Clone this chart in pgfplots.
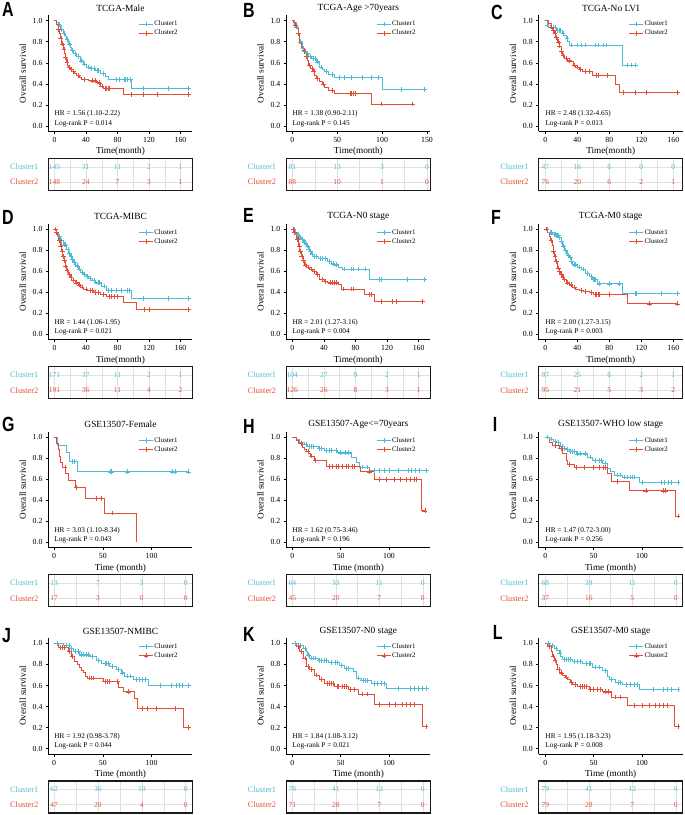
\documentclass[border=0pt]{standalone}
\usepackage{pgfplots}
\pgfplotsset{compat=1.18}
\usepackage{fontspec}
\setmainfont{Liberation Serif}
\newfontfamily\lettersf{Liberation Sans}
\definecolor{c1}{HTML}{4DBBD5}
\definecolor{c2}{HTML}{E64B35}
\newcommand\fs[1]{\fontsize{#1}{#1}\selectfont}
\pgfplotsset{
 km/.style={scale only axis, width=144pt, height=116pt, anchor=north west,
  ymin=-0.05, ymax=1.05, axis lines*=left, axis line style={line width=0.6pt},
  tick align=outside, major tick length=2.5pt, tick style={black, line width=0.6pt},
  ytick={0,0.2,0.4,0.6,0.8,1},
  yticklabel style={/pgf/number format/.cd,fixed,fixed zerofill,precision=1},
  /pgf/number format/assume math mode=true,
  ticklabel style={font=\fs{7.8}},
  every axis title shift=0pt,
  title style={font=\fs{9.4}, at={(axis description cs:0.5,1.06)}, anchor=center},
  xlabel style={font=\fs{9.2}, at={(axis description cs:0.5,-0.175)}, anchor=center},
  ylabel style={font=\fs{9.2}, at={(axis description cs:-0.179,0.5)}, anchor=center},
  ylabel={Overall survival},
  legend style={at={(axis description cs:0.625,0.961)}, anchor=north west, draw=none, fill=none, inner sep=0pt, font=\fs{6.9}, row sep=1.2pt, column sep=0pt, nodes={inner sep=0.8pt}},
  legend cell align=left,
  legend image code/.code={\draw[mark repeat=2,mark phase=2,#1] plot coordinates {(0pt,0pt) (7pt,0pt) (14pt,0pt)};},
 },
 kml/.style={const plot, line width=0.8pt, forget plot},
 cens/.style={only marks, mark=+, mark size=2.4pt, mark options={line width=0.5pt}, forget plot},
 tbl/.style={scale only axis, width=144pt, height=32pt, anchor=north west,
  ymin=0.45, ymax=2.55, ytick={1,2},
  yticklabels={\textcolor{c2}{Cluster2},\textcolor{c1}{Cluster1}},
  yticklabel style={font=\fs{8.3}, inner sep=0pt, xshift=-10pt},
  major tick length=0pt, minor tick length=0pt, xticklabels={},
  grid=both, grid style={black!12, line width=0.5pt}, minor grid style={black!12, line width=0.5pt},
  axis line style={line width=1.1pt, black!90}},
 tn/.style={draw=none, mark=none, nodes near coords, point meta=explicit symbolic,
  every node near coord/.append style={anchor=center, font=\fs{7.5}, inner sep=0pt}},
}
\newcommand\kmleg{\addlegendimage{c1, line width=0.8pt, mark=+, mark size=2.4pt, mark options={line width=0.5pt}}\addlegendentry{Cluster1}%
\addlegendimage{c2, line width=0.8pt, mark=+, mark size=2.4pt, mark options={line width=0.5pt}}\addlegendentry{Cluster2}}
\newcommand\kmhr[2]{\node[anchor=west, font=\fs{7.3}, inner sep=0pt] at (axis cs:0,0.115) {#1};
\node[anchor=west, font=\fs{7.3}, inner sep=0pt] at (axis cs:0,0.025) {#2};}
\newcommand\plet[3]{\node[anchor=north west, inner sep=0pt, font=\lettersf\bfseries\fs{20.5}] at (#1pt,-#2pt) {\scalebox{0.78}[1]{#3}};}
\begin{document}
\begin{tikzpicture}
\path[use as bounding box] (0pt,0pt) rectangle (685pt,-815pt);
\plet{2}{1.7}{A}\plet{243}{3.3}{B}\plet{491}{5}{C}
\plet{2}{209.7}{D}\plet{243}{208}{E}\plet{491}{209.7}{F}
\plet{2}{417}{G}\plet{243}{418.7}{H}\plet{492.7}{417}{I}
\plet{2}{628}{J}\plet{243}{626.7}{K}\plet{492.7}{625}{L}

% ---------------- A
\begin{axis}[km, at={(48.5pt,-15.4pt)}, xmin=-7.6, xmax=175.2, xtick={0,40,80,120,160}, title={TCGA-Male}, xlabel={Time(month)}]
\addplot[kml,c1] coordinates {(0,1) (3,0.98) (5,0.96) (8,0.92) (11.4,0.88) (13.5,0.85) (15.7,0.82) (18,0.78) (20,0.75) (22,0.72) (24.1,0.69) (28.4,0.66) (32.6,0.62) (36.8,0.59) (41,0.56) (45.3,0.55) (51.6,0.53) (58,0.50) (64.3,0.47) (68.6,0.44) (98.2,0.36) (170,0.36)};
\addplot[cens,c1] coordinates {(6,0.96) (9,0.92) (12,0.88) (16,0.82) (19,0.78) (23,0.72) (26,0.69) (30,0.66) (34,0.62) (38,0.59) (43,0.56) (47,0.55) (50,0.55) (54,0.53) (56,0.53) (62,0.50) (78,0.44) (82,0.44) (88,0.44) (90,0.44) (93,0.44) (96,0.44) (113,0.36) (145,0.36) (170,0.36)};
\addplot[kml,c2] coordinates {(0,1) (2,0.98) (3,0.96) (4.5,0.92) (6.3,0.88) (7.8,0.83) (9.3,0.78) (11,0.73) (12.3,0.69) (13.5,0.65) (14.8,0.61) (16.3,0.58) (17.8,0.56) (20,0.54) (22,0.52) (25,0.50) (27.5,0.48) (31,0.46) (34.7,0.44) (43,0.43) (53.8,0.41) (58,0.38) (62.2,0.36) (87.6,0.30) (170,0.30)};
\addplot[cens,c2] coordinates {(5,0.92) (8,0.83) (10,0.78) (12,0.73) (14,0.65) (16,0.61) (19,0.56) (21,0.54) (24,0.52) (30,0.48) (38,0.44) (48,0.43) (52,0.43) (57,0.41) (60,0.38) (64,0.36) (66,0.36) (68,0.36) (70,0.36) (98,0.30) (113,0.30) (130,0.30) (170,0.30)};
\kmleg
\kmhr{HR = 1.56 (1.10-2.22)}{Log-rank P = 0.014}
\end{axis}
\begin{axis}[tbl, at={(48.5pt,-158.4pt)}, xmin=-7.6, xmax=175.2, xtick={0,40,80,120,160}, minor xtick={20,60,100,140}]
\addplot[tn, every node near coord/.append style={text=c1}] coordinates {(0,2)[145] (40,2)[31] (80,2)[11] (120,2)[2] (160,2)[1]};
\addplot[tn, every node near coord/.append style={text=c2}] coordinates {(0,1)[148] (40,1)[24] (80,1)[7] (120,1)[3] (160,1)[1]};
\end{axis}

% ---------------- B
\begin{axis}[km, at={(286.3pt,-15.4pt)}, xmin=-6.7, xmax=153.7, xtick={0,50,100,150}, title={TCGA-Age >70years}, xlabel={Time(month)}]
\addplot[kml,c1] coordinates {(0,1) (2,0.98) (4.5,0.94) (6.3,0.88) (8.2,0.80) (10.8,0.74) (13,0.71) (15.6,0.69) (18,0.66) (21,0.64) (26.7,0.61) (30.4,0.56) (33,0.54) (36,0.52) (40,0.49) (47,0.46) (99.9,0.35) (147,0.35)};
\addplot[cens,c1] coordinates {(5,0.94) (9,0.80) (12,0.74) (14,0.71) (17,0.69) (20,0.66) (23,0.64) (25,0.64) (28,0.61) (32,0.56) (38,0.52) (45,0.49) (52,0.46) (58,0.46) (66,0.46) (78,0.46) (88,0.46) (96,0.46) (121,0.35) (147,0.35)};
\addplot[kml,c2] coordinates {(0,1) (1.5,0.98) (2.6,0.96) (4,0.93) (6.3,0.88) (8.2,0.78) (10,0.75) (11.9,0.72) (14,0.69) (15.6,0.66) (17,0.62) (18.2,0.58) (20.5,0.55) (23,0.52) (25,0.48) (26.7,0.45) (30.4,0.42) (33,0.40) (36,0.37) (39.7,0.34) (47,0.31) (88,0.21) (134,0.21)};
\addplot[cens,c2] coordinates {(3,0.96) (7,0.88) (13,0.72) (16,0.66) (19,0.58) (22,0.55) (24,0.52) (28,0.45) (35,0.40) (44,0.34) (64,0.31) (66,0.31) (68,0.31) (70,0.31) (99,0.21) (134,0.21)};
\kmleg
\kmhr{HR = 1.38 (0.90-2.11)}{Log-rank P = 0.145}
\end{axis}
\begin{axis}[tbl, at={(286.3pt,-158.4pt)}, xmin=-6.7, xmax=153.7, xtick={0,50,100,150}, minor xtick={25,75,125}]
\addplot[tn, every node near coord/.append style={text=c1}] coordinates {(0,2)[81] (50,2)[13] (100,2)[3] (150,2)[0]};
\addplot[tn, every node near coord/.append style={text=c2}] coordinates {(0,1)[88] (50,1)[10] (100,1)[1] (150,1)[0]};
\end{axis}

% ---------------- C
\begin{axis}[km, at={(538.7pt,-15.4pt)}, xmin=-8.25, xmax=171.75, xtick={0,40,80,120,160}, title={TCGA-No LVI}, xlabel={Time(month)}]
\addplot[kml,c1] coordinates {(0,1) (3,0.96) (4.2,0.94) (13.3,0.91) (20.8,0.88) (23,0.86) (25.8,0.83) (28,0.80) (30,0.77) (96.7,0.58) (113,0.58)};
\addplot[cens,c1] coordinates {(2,0.96) (6,0.94) (8,0.94) (10,0.94) (12,0.94) (15,0.91) (17,0.91) (19,0.91) (22,0.88) (27,0.83) (33,0.77) (40,0.77) (45,0.77) (50,0.77) (63,0.77) (66,0.77) (72,0.77) (76,0.77) (103,0.58) (108,0.58) (113,0.58)};
\addplot[kml,c2] coordinates {(0,1) (4,0.97) (7,0.94) (9,0.91) (11.3,0.88) (13,0.84) (15.4,0.80) (17,0.76) (19.6,0.71) (21.5,0.67) (23.8,0.64) (28,0.62) (32,0.61) (35,0.58) (38,0.56) (42,0.54) (46.7,0.52) (59,0.48) (88,0.40) (93,0.32) (165,0.32)};
\addplot[cens,c2] coordinates {(8,0.94) (10,0.91) (12,0.88) (14,0.84) (16,0.80) (18,0.76) (20,0.71) (22,0.67) (26,0.64) (30,0.62) (36,0.58) (40,0.56) (44,0.54) (50,0.52) (55,0.52) (64,0.48) (66,0.48) (78,0.48) (98,0.32) (112,0.32) (126,0.32) (165,0.32)};
\kmleg
\kmhr{HR = 2.48 (1.32-4.65)}{Log-rank P = 0.013}
\end{axis}
\begin{axis}[tbl, at={(538.7pt,-158.4pt)}, xmin=-8.25, xmax=171.75, xtick={0,40,80,120,160}, minor xtick={20,60,100,140}]
\addplot[tn, every node near coord/.append style={text=c1}] coordinates {(0,2)[47] (40,2)[16] (80,2)[6] (120,2)[0] (160,2)[0]};
\addplot[tn, every node near coord/.append style={text=c2}] coordinates {(0,1)[76] (40,1)[20] (80,1)[6] (120,1)[2] (160,1)[1]};
\end{axis}

% ---------------- D
\begin{axis}[km, at={(48.5pt,-223.7pt)}, xmin=-7.6, xmax=175.2, xtick={0,40,80,120,160}, title={TCGA-MIBC}, xlabel={Time(month)}]
\addplot[kml,c1] coordinates {(0,1) (3,0.97) (5,0.93) (8,0.89) (11.4,0.85) (15.7,0.81) (18,0.77) (20,0.74) (22,0.71) (24,0.68) (27,0.65) (30.5,0.62) (33,0.59) (36.8,0.57) (40,0.55) (43,0.53) (48,0.51) (51.6,0.49) (60,0.46) (66.5,0.42) (98,0.34) (170,0.34)};
\addplot[cens,c1] coordinates {(6,0.93) (9,0.89) (12,0.85) (14,0.85) (17,0.81) (19,0.77) (21,0.74) (23,0.71) (25,0.68) (29,0.65) (32,0.62) (35,0.59) (38,0.57) (42,0.55) (46,0.53) (50,0.51) (55,0.49) (57,0.49) (63,0.46) (68,0.42) (72,0.42) (78,0.42) (85,0.42) (92,0.42) (95,0.42) (113,0.34) (145,0.34) (170,0.34)};
\addplot[kml,c2] coordinates {(0,1) (2,0.97) (3.8,0.93) (5.5,0.89) (7.2,0.84) (9,0.79) (10.6,0.74) (12,0.70) (13.5,0.65) (15.5,0.61) (17.8,0.57) (20,0.54) (22,0.51) (26,0.49) (30.5,0.47) (33,0.45) (36.8,0.43) (42,0.42) (49.5,0.40) (58,0.38) (66.5,0.36) (87.6,0.30) (104.5,0.24) (170,0.24)};
\addplot[cens,c2] coordinates {(1,1) (2.5,0.97) (6,0.89) (8,0.84) (10,0.79) (11,0.74) (13,0.70) (14,0.65) (16,0.61) (19,0.57) (21,0.54) (24,0.51) (28,0.49) (32,0.47) (35,0.45) (40,0.43) (45,0.42) (48,0.42) (52,0.40) (56,0.40) (62,0.38) (69,0.36) (72,0.36) (76,0.36) (80,0.36) (114,0.24) (120,0.24) (170,0.24)};
\kmleg
\kmhr{HR = 1.44 (1.06-1.95)}{Log-rank P = 0.021}
\end{axis}
\begin{axis}[tbl, at={(48.5pt,-366.7pt)}, xmin=-7.6, xmax=175.2, xtick={0,40,80,120,160}, minor xtick={20,60,100,140}]
\addplot[tn, every node near coord/.append style={text=c1}] coordinates {(0,2)[171] (40,2)[37] (80,2)[11] (120,2)[2] (160,2)[1]};
\addplot[tn, every node near coord/.append style={text=c2}] coordinates {(0,1)[191] (40,1)[36] (80,1)[11] (120,1)[4] (160,1)[2]};
\end{axis}

% ---------------- E
\begin{axis}[km, at={(286.3pt,-223.7pt)}, xmin=-7.6, xmax=174.7, xtick={0,40,80,120,160}, title={TCGA-N0 stage}, xlabel={Time(month)}]
\addplot[kml,c1] coordinates {(0,1) (3,0.97) (5,0.95) (8,0.92) (11.4,0.90) (14,0.87) (17.7,0.84) (20,0.81) (22,0.79) (24,0.76) (26,0.74) (32.5,0.72) (45,0.69) (50,0.67) (53.6,0.66) (58,0.64) (64,0.62) (98,0.52) (167.5,0.52)};
\addplot[cens,c1] coordinates {(2,1) (4,0.97) (6,0.95) (7,0.95) (9,0.92) (10,0.92) (12,0.90) (13,0.90) (15,0.87) (16,0.87) (19,0.84) (21,0.81) (23,0.79) (25,0.76) (28,0.74) (30,0.74) (35,0.72) (38,0.72) (42,0.72) (47,0.69) (52,0.67) (56,0.66) (66,0.62) (75,0.62) (77,0.62) (83,0.62) (92,0.62) (110,0.52) (113,0.52) (145,0.52) (167.5,0.52)};
\addplot[kml,c2] coordinates {(0,1) (2,0.97) (5,0.90) (8,0.84) (9.5,0.79) (11.4,0.74) (13.5,0.70) (15.6,0.66) (18,0.64) (22,0.62) (26,0.60) (30.4,0.57) (34.6,0.52) (40,0.50) (45,0.49) (57.8,0.47) (62,0.43) (91.6,0.38) (104,0.31) (165,0.31)};
\addplot[cens,c2] coordinates {(1,1) (3,0.97) (6,0.90) (7,0.90) (9,0.84) (10,0.79) (12,0.74) (14,0.70) (16,0.66) (17,0.66) (20,0.64) (24,0.62) (28,0.60) (32,0.57) (38,0.52) (42,0.50) (48,0.49) (50,0.49) (53,0.49) (55,0.49) (65,0.43) (75,0.43) (77,0.43) (97,0.38) (100,0.38) (113,0.31) (126,0.31) (132,0.31) (165,0.31)};
\kmleg
\kmhr{HR = 2.01 (1.27-3.16)}{Log-rank P = 0.004}
\end{axis}
\begin{axis}[tbl, at={(286.3pt,-366.7pt)}, xmin=-7.6, xmax=174.7, xtick={0,40,80,120,160}, minor xtick={20,60,100,140}]
\addplot[tn, every node near coord/.append style={text=c1}] coordinates {(0,2)[104] (40,2)[27] (80,2)[9] (120,2)[2] (160,2)[1]};
\addplot[tn, every node near coord/.append style={text=c2}] coordinates {(0,1)[126] (40,1)[26] (80,1)[8] (120,1)[3] (160,1)[1]};
\end{axis}

% ---------------- F
\begin{axis}[km, at={(538.7pt,-223.7pt)}, xmin=-8.25, xmax=171.75, xtick={0,40,80,120,160}, title={TCGA-M0 stage}, xlabel={Time(month)}]
\addplot[kml,c1] coordinates {(0,1) (3,0.97) (9,0.95) (13,0.94) (17.5,0.92) (19.5,0.88) (21.7,0.84) (24,0.80) (25.8,0.77) (28,0.75) (30,0.73) (32,0.69) (34,0.66) (40,0.64) (44.6,0.62) (50,0.58) (55,0.55) (59,0.52) (65.4,0.48) (96.7,0.39) (165,0.39)};
\addplot[cens,c1] coordinates {(2,1) (6,0.97) (8,0.97) (11,0.95) (12,0.95) (14,0.94) (15,0.94) (16,0.94) (18,0.92) (20,0.88) (23,0.84) (25,0.80) (27,0.77) (29,0.75) (31,0.73) (33,0.69) (36,0.66) (38,0.66) (42,0.64) (47,0.62) (52,0.58) (53,0.58) (57,0.55) (60,0.52) (61,0.52) (63,0.52) (67,0.48) (80,0.48) (92,0.48) (112,0.39) (114,0.39) (145,0.39) (165,0.39)};
\addplot[kml,c2] coordinates {(0,1) (2,0.97) (5,0.93) (6.5,0.89) (8.3,0.84) (9.8,0.79) (11.3,0.74) (13,0.69) (15.4,0.63) (17,0.60) (18.8,0.57) (20.8,0.54) (23,0.52) (25.8,0.49) (30,0.47) (34,0.45) (38,0.43) (42.5,0.42) (48,0.41) (55,0.40) (60,0.38) (103,0.29) (165,0.29)};
\addplot[cens,c2] coordinates {(1,1) (7,0.89) (10,0.79) (12,0.74) (14,0.69) (16,0.63) (18,0.60) (20,0.57) (22,0.54) (24,0.52) (28,0.49) (32,0.47) (36,0.45) (45,0.42) (50,0.41) (58,0.40) (62,0.38) (64,0.38) (66,0.38) (68,0.38) (80,0.38) (130,0.29) (165,0.29)};
\kmleg
\kmhr{HR = 2.00 (1.27-3.15)}{Log-rank P = 0.003}
\end{axis}
\begin{axis}[tbl, at={(538.7pt,-366.7pt)}, xmin=-8.25, xmax=171.75, xtick={0,40,80,120,160}, minor xtick={20,60,100,140}]
\addplot[tn, every node near coord/.append style={text=c1}] coordinates {(0,2)[97] (40,2)[25] (80,2)[6] (120,2)[2] (160,2)[1]};
\addplot[tn, every node near coord/.append style={text=c2}] coordinates {(0,1)[95] (40,1)[21] (80,1)[5] (120,1)[3] (160,1)[2]};
\end{axis}

% ---------------- G
\begin{axis}[km, at={(48.5pt,-431.7pt)}, xmin=-5.8, xmax=142, xtick={0,50,100}, title={GSE13507-Female}, xlabel={Time (month)}]
\addplot[kml,c1] coordinates {(0,1) (3,0.92) (12.7,0.85) (15.4,0.77) (23.6,0.67) (137.6,0.67)};
\addplot[cens,c1] coordinates {(19,0.77) (21,0.77) (58,0.67) (58.7,0.67) (75,0.67) (121,0.67) (124,0.67) (137.6,0.67)};
\addplot[kml,c2] coordinates {(0,1) (2.4,0.94) (4.1,0.88) (5.8,0.82) (6.5,0.76) (8,0.71) (12,0.65) (14.4,0.59) (22.2,0.52) (32.5,0.42) (52,0.28) (84.5,0)};
\addplot[cens,c2] coordinates {(11,0.71) (23,0.52) (43,0.42) (48,0.42) (60,0.28)};
\kmleg
\kmhr{HR = 3.03 (1.10-8.34)}{Log-rank P = 0.043}
\end{axis}
\begin{axis}[tbl, at={(48.5pt,-574.7pt)}, xmin=-5.8, xmax=142, xtick={0,45,90,135}, minor xtick={22.5,67.5,112.5}]
\addplot[tn, every node near coord/.append style={text=c1}] coordinates {(0,2)[13] (45,2)[7] (90,2)[3] (135,2)[0]};
\addplot[tn, every node near coord/.append style={text=c2}] coordinates {(0,1)[17] (45,1)[3] (90,1)[0] (135,1)[0]};
\end{axis}

% ---------------- H
\begin{axis}[km, at={(286.3pt,-431.7pt)}, xmin=-6.2, xmax=142.7, xtick={0,50,100}, title={GSE13507-Age<=70years}, xlabel={Time (month)}]
\addplot[kml,c1] coordinates {(0,1) (4,0.98) (7.6,0.95) (12,0.93) (16,0.91) (26.5,0.89) (33.4,0.87) (47,0.85) (61,0.81) (66,0.76) (69.7,0.715) (80,0.68) (138.6,0.68)};
\addplot[cens,c1] coordinates {(14,0.93) (18,0.91) (20,0.91) (22,0.91) (28,0.89) (30,0.89) (35,0.87) (38,0.87) (40,0.87) (45,0.87) (50,0.85) (55,0.85) (58,0.85) (72,0.715) (78,0.715) (85,0.68) (90,0.68) (95,0.68) (100,0.68) (110,0.68) (120,0.68) (123,0.68) (127,0.68) (131,0.68) (138.6,0.68)};
\addplot[kml,c2] coordinates {(0,1) (4,0.97) (6.6,0.94) (10,0.90) (12,0.88) (14.5,0.86) (17,0.84) (19,0.82) (22.4,0.78) (35,0.72) (70.7,0.67) (85,0.60) (133.4,0.30) (137,0.30)};
\addplot[cens,c2] coordinates {(9,0.94) (16,0.86) (20,0.82) (24,0.78) (38,0.72) (41,0.72) (45,0.72) (48,0.72) (52,0.72) (56,0.72) (58,0.72) (62,0.72) (64,0.72) (80,0.67) (90,0.60) (97,0.60) (105,0.60) (112,0.60) (118,0.60) (122,0.60) (126,0.60) (128,0.60) (137,0.30)};
\kmleg
\kmhr{HR = 1.62 (0.75-3.46)}{Log-rank P = 0.196}
\end{axis}
\begin{axis}[tbl, at={(286.3pt,-574.7pt)}, xmin=-6.2, xmax=142.7, xtick={0,45,90,135}, minor xtick={22.5,67.5,112.5}]
\addplot[tn, every node near coord/.append style={text=c1}] coordinates {(0,2)[64] (45,2)[33] (90,2)[11] (135,2)[0]};
\addplot[tn, every node near coord/.append style={text=c2}] coordinates {(0,1)[45] (45,1)[20] (90,1)[7] (135,1)[0]};
\end{axis}

% ---------------- I
\begin{axis}[km, at={(538.7pt,-431.7pt)}, xmin=-6.8, xmax=142.1, xtick={0,50,100}, title={GSE13507-WHO low stage}, xlabel={Time (month)}]
\addplot[kml,c1] coordinates {(0,1) (4,0.98) (8,0.96) (11,0.95) (16,0.91) (19.7,0.89) (22,0.88) (24.8,0.86) (31.7,0.84) (43.8,0.81) (49,0.78) (59,0.75) (64.5,0.70) (67,0.67) (71.4,0.64) (80,0.62) (97,0.57) (137,0.57)};
\addplot[cens,c1] coordinates {(2,1) (6,0.98) (10,0.96) (13,0.95) (18,0.91) (20,0.89) (23,0.88) (26,0.86) (28,0.86) (30,0.86) (33,0.84) (36,0.84) (41,0.84) (46,0.81) (52,0.78) (56,0.78) (58,0.78) (62,0.75) (74,0.64) (78,0.64) (82,0.62) (85,0.62) (88,0.62) (90,0.62) (92,0.62) (100,0.57) (120,0.57) (123,0.57) (127,0.57) (130,0.57) (137,0.57)};
\addplot[kml,c2] coordinates {(0,1) (4,0.95) (7.6,0.92) (14.5,0.89) (18,0.84) (21.4,0.78) (23,0.74) (30,0.71) (64.5,0.65) (68,0.58) (87,0.49) (134.5,0.25) (137,0.25)};
\addplot[cens,c2] coordinates {(10,0.92) (16,0.89) (25,0.74) (32,0.71) (40,0.71) (50,0.71) (56,0.71) (60,0.71) (62,0.71) (74,0.58) (104,0.49) (122,0.49) (124,0.49) (137,0.25)};
\kmleg
\kmhr{HR = 1.47 (0.72-3.00)}{Log-rank P = 0.256}
\end{axis}
\begin{axis}[tbl, at={(538.7pt,-574.7pt)}, xmin=-6.8, xmax=142.1, xtick={0,45,90,135}, minor xtick={22.5,67.5,112.5}]
\addplot[tn, every node near coord/.append style={text=c1}] coordinates {(0,2)[68] (45,2)[39] (90,2)[11] (135,2)[0]};
\addplot[tn, every node near coord/.append style={text=c2}] coordinates {(0,1)[37] (45,1)[16] (90,1)[5] (135,1)[0]};
\end{axis}

% ---------------- J
\begin{axis}[km, at={(48.5pt,-638pt)}, xmin=-5.8, xmax=142, xtick={0,50,100}, title={GSE13507-NMIBC}, xlabel={Time (month)}]
\addplot[kml,c1] coordinates {(0,1) (9,0.98) (16,0.95) (19.5,0.92) (26,0.89) (36.6,0.875) (43.5,0.84) (48.6,0.81) (57,0.78) (64,0.75) (69,0.72) (72.5,0.69) (81,0.66) (96.5,0.60) (137.6,0.60)};
\addplot[cens,c1] coordinates {(3,1) (12,0.98) (15,0.98) (18,0.95) (22,0.92) (25,0.92) (28,0.89) (30,0.89) (33,0.89) (35,0.89) (39,0.875) (45,0.84) (52,0.81) (53,0.81) (56,0.81) (60,0.78) (66,0.75) (70,0.72) (75,0.69) (78,0.69) (84,0.66) (87,0.66) (90,0.66) (93,0.66) (109,0.60) (120,0.60) (125,0.60) (128,0.60) (131,0.60) (137.6,0.60)};
\addplot[kml,c2] coordinates {(0,1) (4,0.96) (14.4,0.92) (17.8,0.875) (21.2,0.83) (23.5,0.80) (25.7,0.77) (28,0.74) (29.8,0.72) (32,0.69) (33.9,0.67) (50.3,0.64) (65.7,0.58) (70.8,0.54) (82.8,0.48) (85.2,0.38) (133,0.20) (137.6,0.20)};
\addplot[cens,c2] coordinates {(6,0.96) (8,0.96) (10,0.96) (16,0.92) (19,0.875) (36,0.67) (38,0.67) (40,0.67) (52,0.64) (55,0.64) (57,0.64) (65,0.64) (76,0.54) (90,0.38) (96,0.38) (105,0.38) (124,0.38) (137.6,0.20)};
\kmleg
\kmhr{HR = 1.92 (0.98-3.78)}{Log-rank P = 0.044}
\end{axis}
\begin{axis}[tbl, at={(48.5pt,-781pt)}, xmin=-5.8, xmax=142, xtick={0,45,90,135}, minor xtick={22.5,67.5,112.5}]
\addplot[tn, every node near coord/.append style={text=c1}] coordinates {(0,2)[62] (45,2)[36] (90,2)[10] (135,2)[0]};
\addplot[tn, every node near coord/.append style={text=c2}] coordinates {(0,1)[47] (45,1)[20] (90,1)[4] (135,1)[0]};
\end{axis}

% ---------------- K
\begin{axis}[km, at={(286.3pt,-638pt)}, xmin=-6.2, xmax=142.7, xtick={0,50,100}, title={GSE13507-N0 stage}, xlabel={Time (month)}]
\addplot[kml,c1] coordinates {(0,1) (5.9,0.98) (11,0.95) (14.5,0.92) (16,0.89) (18,0.86) (26.5,0.84) (37,0.82) (49,0.79) (54,0.76) (62.8,0.73) (66,0.67) (71.4,0.65) (81.7,0.62) (97,0.57) (138.6,0.57)};
\addplot[cens,c1] coordinates {(3,1) (8,0.98) (13,0.95) (17,0.89) (20,0.86) (22,0.86) (24,0.86) (28,0.84) (30,0.84) (33,0.84) (35,0.84) (40,0.82) (44,0.82) (46,0.82) (51,0.79) (56,0.76) (58,0.76) (68,0.67) (73,0.65) (75,0.65) (78,0.65) (85,0.62) (88,0.62) (92,0.62) (95,0.62) (110,0.57) (122,0.57) (126,0.57) (130,0.57) (134,0.57) (138.6,0.57)};
\addplot[kml,c2] coordinates {(0,1) (4,0.97) (7.6,0.92) (11,0.86) (14.5,0.78) (18,0.75) (23,0.70) (28.3,0.66) (33.4,0.62) (43.8,0.59) (57.6,0.56) (68,0.52) (85,0.42) (135,0.21) (138,0.21)};
\addplot[cens,c2] coordinates {(6,0.97) (9,0.92) (13,0.86) (16,0.78) (20,0.75) (25,0.70) (30,0.66) (36,0.62) (38,0.62) (40,0.62) (42,0.62) (46,0.59) (48,0.59) (52,0.59) (54,0.59) (56,0.59) (60,0.56) (64,0.56) (72,0.52) (77,0.52) (90,0.42) (100,0.42) (106,0.42) (114,0.42) (118,0.42) (122,0.42) (126,0.42) (138,0.21)};
\kmleg
\kmhr{HR = 1.84 (1.08-3.12)}{Log-rank P = 0.021}
\end{axis}
\begin{axis}[tbl, at={(286.3pt,-781pt)}, xmin=-6.2, xmax=142.7, xtick={0,45,90,135}, minor xtick={22.5,67.5,112.5}]
\addplot[tn, every node near coord/.append style={text=c1}] coordinates {(0,2)[78] (45,2)[41] (90,2)[12] (135,2)[0]};
\addplot[tn, every node near coord/.append style={text=c2}] coordinates {(0,1)[71] (45,1)[28] (90,1)[7] (135,1)[0]};
\end{axis}

% ---------------- L
\begin{axis}[km, at={(538.7pt,-638pt)}, xmin=-6.8, xmax=142.1, xtick={0,50,100}, title={GSE13507-M0 stage}, xlabel={Time (month)}]
\addplot[kml,c1] coordinates {(0,1) (4,0.98) (9.3,0.95) (12,0.93) (14.5,0.91) (16,0.88) (18,0.85) (28.3,0.83) (38.6,0.81) (49,0.775) (59,0.74) (64.5,0.69) (66,0.66) (73,0.63) (80,0.61) (97,0.56) (137,0.56)};
\addplot[cens,c1] coordinates {(3,1) (7,0.98) (11,0.95) (15,0.91) (20,0.85) (22,0.85) (24,0.85) (26,0.85) (30,0.83) (33,0.83) (36,0.83) (42,0.81) (45,0.81) (47,0.81) (52,0.775) (56,0.775) (62,0.74) (68,0.66) (75,0.63) (78,0.63) (84,0.61) (88,0.61) (92,0.61) (95,0.61) (112,0.56) (122,0.56) (126,0.56) (130,0.56) (137,0.56)};
\addplot[kml,c2] coordinates {(0,1) (2.4,0.97) (5.9,0.92) (7.5,0.88) (9.3,0.84) (11,0.80) (12.8,0.75) (15,0.72) (18,0.70) (20.5,0.68) (23,0.66) (25.5,0.63) (28.3,0.61) (33.4,0.59) (45.5,0.56) (59,0.54) (68,0.49) (85,0.41) (133.4,0.21) (137,0.21)};
\addplot[cens,c2] coordinates {(4,0.97) (8,0.88) (10,0.84) (14,0.75) (17,0.72) (22,0.68) (27,0.63) (31,0.61) (36,0.59) (38,0.59) (40,0.59) (42,0.59) (47,0.56) (50,0.56) (54,0.56) (57,0.56) (62,0.54) (65,0.54) (72,0.49) (78,0.49) (92,0.41) (100,0.41) (108,0.41) (114,0.41) (118,0.41) (122,0.41) (126,0.41) (137,0.21)};
\kmleg
\kmhr{HR = 1.95 (1.18-3.23)}{Log-rank P = 0.008}
\end{axis}
\begin{axis}[tbl, at={(538.7pt,-781pt)}, xmin=-6.8, xmax=142.1, xtick={0,45,90,135}, minor xtick={22.5,67.5,112.5}]
\addplot[tn, every node near coord/.append style={text=c1}] coordinates {(0,2)[79] (45,2)[41] (90,2)[12] (135,2)[0]};
\addplot[tn, every node near coord/.append style={text=c2}] coordinates {(0,1)[79] (45,1)[28] (90,1)[7] (135,1)[0]};
\end{axis}
\end{tikzpicture}
\end{document}
